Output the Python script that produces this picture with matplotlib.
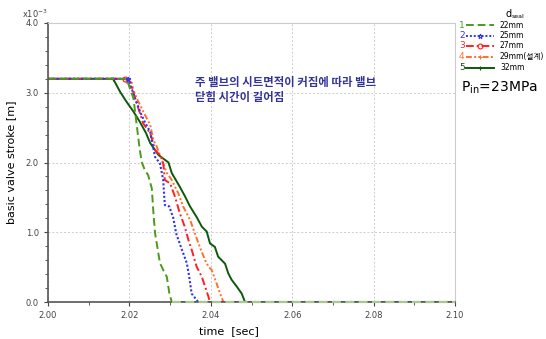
import numpy as np
import matplotlib
matplotlib.use('Agg')
import matplotlib.pyplot as plt
from matplotlib.ticker import MultipleLocator, FormatStrFormatter

plt.rcParams['font.family'] = ['DejaVu Sans', 'Noto Sans CJK KR']

# valve stroke [x1e-3 m] vs time [sec]
t_22 = [2.000, 2.0193, 2.0210, 2.0224, 2.0230, 2.0238, 2.0246, 2.0255, 2.0259, 2.0263,
        2.0275, 2.0283, 2.0292, 2.0298, 2.0304, 2.100]
s_22 = [3.20, 3.20, 2.92, 2.25, 2.01, 1.89, 1.82, 1.63, 1.28, 0.99,
        0.56, 0.46, 0.36, 0.13, 0.0, 0.0]

t_25 = [2.000, 2.0197, 2.0214, 2.0226, 2.0238, 2.0251, 2.0255, 2.0263, 2.0275, 2.0283,
        2.0287, 2.0298, 2.0308, 2.0315, 2.0329, 2.0341, 2.0347, 2.0353, 2.0369, 2.100]
s_25 = [3.20, 3.20, 2.92, 2.73, 2.58, 2.44, 2.32, 2.08, 1.99, 1.75,
        1.39, 1.37, 1.20, 0.98, 0.75, 0.56, 0.36, 0.12, 0.0, 0.0]

t_27 = [2.000, 2.0189, 2.0206, 2.0210, 2.0218, 2.0234, 2.0251, 2.0263, 2.0279, 2.0283,
        2.0287, 2.0300, 2.0312, 2.0324, 2.0336, 2.0345, 2.0353, 2.0365, 2.0378, 2.0386,
        2.0394, 2.0398, 2.100]
s_27 = [3.20, 3.20, 3.14, 2.99, 2.85, 2.56, 2.42, 2.18, 2.08, 2.00,
        1.75, 1.70, 1.51, 1.27, 1.08, 0.89, 0.75, 0.51, 0.36, 0.22,
        0.08, 0.0, 0.0]

t_29 = [2.000, 2.0185, 2.0210, 2.0218, 2.0234, 2.0251, 2.0259, 2.0267, 2.0279, 2.0292,
        2.0304, 2.0320, 2.0332, 2.0349, 2.0361, 2.0373, 2.0386, 2.0394, 2.0402, 2.0414,
        2.0423, 2.0431, 2.100]
s_29 = [3.20, 3.20, 3.04, 2.92, 2.73, 2.54, 2.32, 2.23, 2.04, 1.85,
        1.75, 1.56, 1.37, 1.18, 0.98, 0.79, 0.60, 0.51, 0.46, 0.27,
        0.12, 0.0, 0.0]

t_32 = [2.000, 2.0160, 2.0177, 2.0193, 2.0210, 2.0226, 2.0241, 2.0251, 2.0271, 2.0296,
        2.0304, 2.0324, 2.0337, 2.0349, 2.0365, 2.0378, 2.0390, 2.0398, 2.0410, 2.0418,
        2.0435, 2.0443, 2.0451, 2.0464, 2.0476, 2.0484, 2.100]
s_32 = [3.20, 3.20, 3.015, 2.87, 2.73, 2.58, 2.42, 2.28, 2.11, 2.00,
        1.85, 1.65, 1.51, 1.37, 1.22, 1.08, 1.01, 0.84, 0.79, 0.65,
        0.55, 0.41, 0.32, 0.22, 0.12, 0.0, 0.0]

labels = ['22mm', '25mm', '27mm', '29mm(설계)', '32mm']
colors = ['#4b9a1c', '#3030ff', '#ff2020', '#ff7028', '#0b5a0b']
styles = [(0, (4, 2)), (0, (1, 1)), (0, (4, 1.5, 1, 1.5)), (0, (3, 1.2, 1, 1.2, 1, 1.2)), '-']
markers = [None, '*', 'o', '+', '+']

fig = plt.figure(figsize=(5.46, 3.39), dpi=100)
ax = fig.add_axes([48/546, 1-302/339, 407/546, 279/339])

series = [(t_22, s_22), (t_25, s_25), (t_27, s_27), (t_29, s_29), (t_32, s_32)]
for i in range(4, -1, -1):
    t, s = series[i]
    ax.plot(t, s, color=colors[i], ls=styles[i], lw=1.4 if i != 1 else 1.5,
            marker=markers[i], markevery=[1], ms=3.5, mfc='none', mew=0.8)
# lighter dashed line where all curves sit at zero
ax.plot(t_22[-2:], s_22[-2:], color='#a8c890', ls=(0, (4, 2)), lw=1.6,
        zorder=5, clip_on=False)

ax.set_xlim(2.00, 2.10)
ax.set_ylim(0, 4.0)
ax.xaxis.set_major_locator(MultipleLocator(0.02))
ax.xaxis.set_minor_locator(MultipleLocator(0.01))
ax.yaxis.set_major_locator(MultipleLocator(1.0))
ax.yaxis.set_minor_locator(MultipleLocator(0.2))
ax.xaxis.set_major_formatter(FormatStrFormatter('%.2f'))
ax.yaxis.set_major_formatter(FormatStrFormatter('%.1f'))
ax.tick_params(labelsize=6, colors='#444444', length=3, width=0.8)
ax.tick_params(which='minor', length=2, width=0.6, colors='#444444')
ax.grid(True, which='major', ls=(0, (2, 2)), color='#cccccc', lw=0.7)
for sp in ['left', 'bottom']:
    ax.spines[sp].set_color('#555555')
    ax.spines[sp].set_linewidth(1.2)
for sp in ['top', 'right']:
    ax.spines[sp].set_color('#cccccc')
    ax.spines[sp].set_linewidth(0.8)

ax.set_xlabel('time  [sec]', fontsize=8)
ax.xaxis.set_label_coords(0.445, -0.085)
ax.set_ylabel('basic valve stroke [m]', fontsize=8)
ax.yaxis.set_label_coords(-0.078, 0.5)
fig.text(35/546, 1-14/339, r'x10$^{-3}$', fontsize=6, color='#444444', ha='center', va='center')

fig.text(195/546, 1-90/339, '주 밸브의 시트면적이 커짐에 따라 밸브\n닫힘 시간이 길어짐',
         fontsize=8.2, color='#333399', fontweight='bold', va='center', ha='left',
         family=['Noto Sans CJK KR'], linespacing=1.25)

# legend drawn at the right side
lg = fig.add_axes([0, 0, 1, 1], facecolor='none')
lg.set_xlim(0, 546)
lg.set_ylim(339, 0)
lg.axis('off')
lg.text(505, 14, 'd', fontsize=7, va='center', ha='left')
lg.text(512, 17, 'seal', fontsize=4.5, va='center', ha='left')
rows = [25, 35.5, 46, 56.5, 68]
for i in range(5):
    y = rows[i]
    lg.text(459, y, str(i + 1), color=colors[i], fontsize=6.5, va='center', ha='left')
    lg.plot([466, 494], [y, y], color=colors[i], ls=styles[i], lw=1.4)
    if markers[i]:
        lg.plot([480], [y], color=colors[i], marker=markers[i], ms=3.5, mfc='none', mew=0.8)
    lg.text(500, y, labels[i], fontsize=5.5, va='center', ha='left',
            family=['DejaVu Sans', 'Noto Sans CJK KR'])
lg.text(461, 88, r'P$_{\mathregular{in}}$=23MPa', fontsize=10, va='center', ha='left')

fig.savefig('out.png', dpi=100)
